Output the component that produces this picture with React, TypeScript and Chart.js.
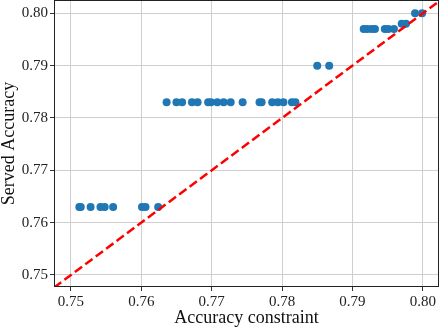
import React, { useEffect, useRef } from "react";
import { Chart, registerables } from "chart.js";

Chart.register(...registerables);

const constraintX = [
  0.7512, 0.7514, 0.7528, 0.7542, 0.7548, 0.756, 0.7601, 0.7606, 0.7624,
  0.7636, 0.765, 0.7658, 0.7672, 0.768, 0.7695, 0.7699, 0.7708, 0.7717, 0.7727, 0.7744,
  0.7768, 0.7771, 0.7786, 0.7794, 0.7802, 0.7814, 0.7819,
  0.785, 0.7867,
  0.7916, 0.7921, 0.7927, 0.7932, 0.7946, 0.7951, 0.7959,
  0.797, 0.7976,
  0.7989, 0.7999,
];
const servedY = [
  0.763, 0.763, 0.763, 0.763, 0.763, 0.763, 0.763, 0.763, 0.763,
  0.783, 0.783, 0.783, 0.783, 0.783, 0.783, 0.783, 0.783, 0.783, 0.783, 0.783,
  0.783, 0.783, 0.783, 0.783, 0.783, 0.783, 0.783,
  0.79, 0.79,
  0.797, 0.797, 0.797, 0.797, 0.797, 0.797, 0.797,
  0.798, 0.798,
  0.8, 0.8,
];
const diagonal = [0.7476, 0.8025];
const xTicks = [0.75, 0.76, 0.77, 0.78, 0.79, 0.8];
const yTicks = [0.75, 0.76, 0.77, 0.78, 0.79, 0.8];
const xRange = [0.7476, 0.8023];
const yRange = [0.7477, 0.80255];

const FONT = "'Liberation Serif', 'Times New Roman', serif";

const framePlugin = {
  id: "frame",
  afterDraw(chart: any) {
    const { ctx, chartArea } = chart;
    ctx.save();
    ctx.strokeStyle = "#222";
    ctx.lineWidth = 1;
    ctx.strokeRect(
      Math.round(chartArea.left) + 0.5,
      Math.round(chartArea.top) + 0.5,
      Math.round(chartArea.right - chartArea.left) - 1,
      Math.round(chartArea.bottom - chartArea.top) - 1
    );
    ctx.restore();
  },
};

export default function App() {
  const ref = useRef<HTMLCanvasElement>(null);
  useEffect(() => {
    document.body.style.margin = "0";
    document.body.style.overflow = "hidden";
    const chart = new Chart(ref.current!, {
      type: "scatter",
      data: {
        datasets: [
          {
            type: "line",
            data: diagonal.map((v) => ({ x: v, y: v })),
            borderColor: "#ff0000",
            borderWidth: 2.5,
            borderDash: [9, 4],
            pointRadius: 0,
            fill: false,
          } as any,
          {
            data: constraintX.map((x, i) => ({ x, y: servedY[i] })),
            backgroundColor: "#1f77b4",
            borderWidth: 0,
            pointRadius: 4,
          },
        ],
      },
      options: {
        responsive: false,
        animation: false,
        layout: { autoPadding: false, padding: { top: 0, right: 1, left: 0, bottom: 0 } },
        plugins: { legend: { display: false }, tooltip: { enabled: false } },
        scales: {
          x: {
            type: "linear",
            min: xRange[0],
            max: xRange[1],
            afterBuildTicks: (s: any) => {
              s.ticks = xTicks.map((v) => ({ value: v }));
            },
            afterFit: (s: any) => {
              s.height = 42;
              s.paddingLeft = 0;
              s.paddingRight = 0;
            },
            ticks: {
              callback: (v: any) => Number(v).toFixed(2),
              font: { family: FONT, size: 15 },
              color: "#222",
              padding: 2,
              maxRotation: 0,
            },
            grid: { color: "#cfcfcf", lineWidth: 1, tickColor: "#333", tickLength: 4 },
            border: { display: false },
            title: {
              display: true,
              text: "Accuracy constraint",
              font: { family: FONT, size: 18 },
              color: "#111",
              padding: 0,
            },
          },
          y: {
            type: "linear",
            min: yRange[0],
            max: yRange[1],
            afterBuildTicks: (s: any) => {
              s.ticks = yTicks.map((v) => ({ value: v }));
            },
            afterFit: (s: any) => {
              s.width = 54;
              s.paddingTop = 0;
              s.paddingBottom = 0;
            },
            ticks: {
              callback: (v: any) => Number(v).toFixed(2),
              font: { family: FONT, size: 15 },
              color: "#222",
              padding: 2,
            },
            grid: { color: "#cfcfcf", lineWidth: 1, tickColor: "#333", tickLength: 4 },
            border: { display: false },
            title: {
              display: true,
              text: "Served Accuracy",
              font: { family: FONT, size: 18, lineHeight: 1 },
              color: "#111",
              padding: 0,
            },
          },
        },
      },
      plugins: [framePlugin],
    });
    return () => chart.destroy();
  }, []);
  return (
    <div style={{ width: 440, height: 329 }}>
      <canvas ref={ref} width={440} height={329} />
    </div>
  );
}
